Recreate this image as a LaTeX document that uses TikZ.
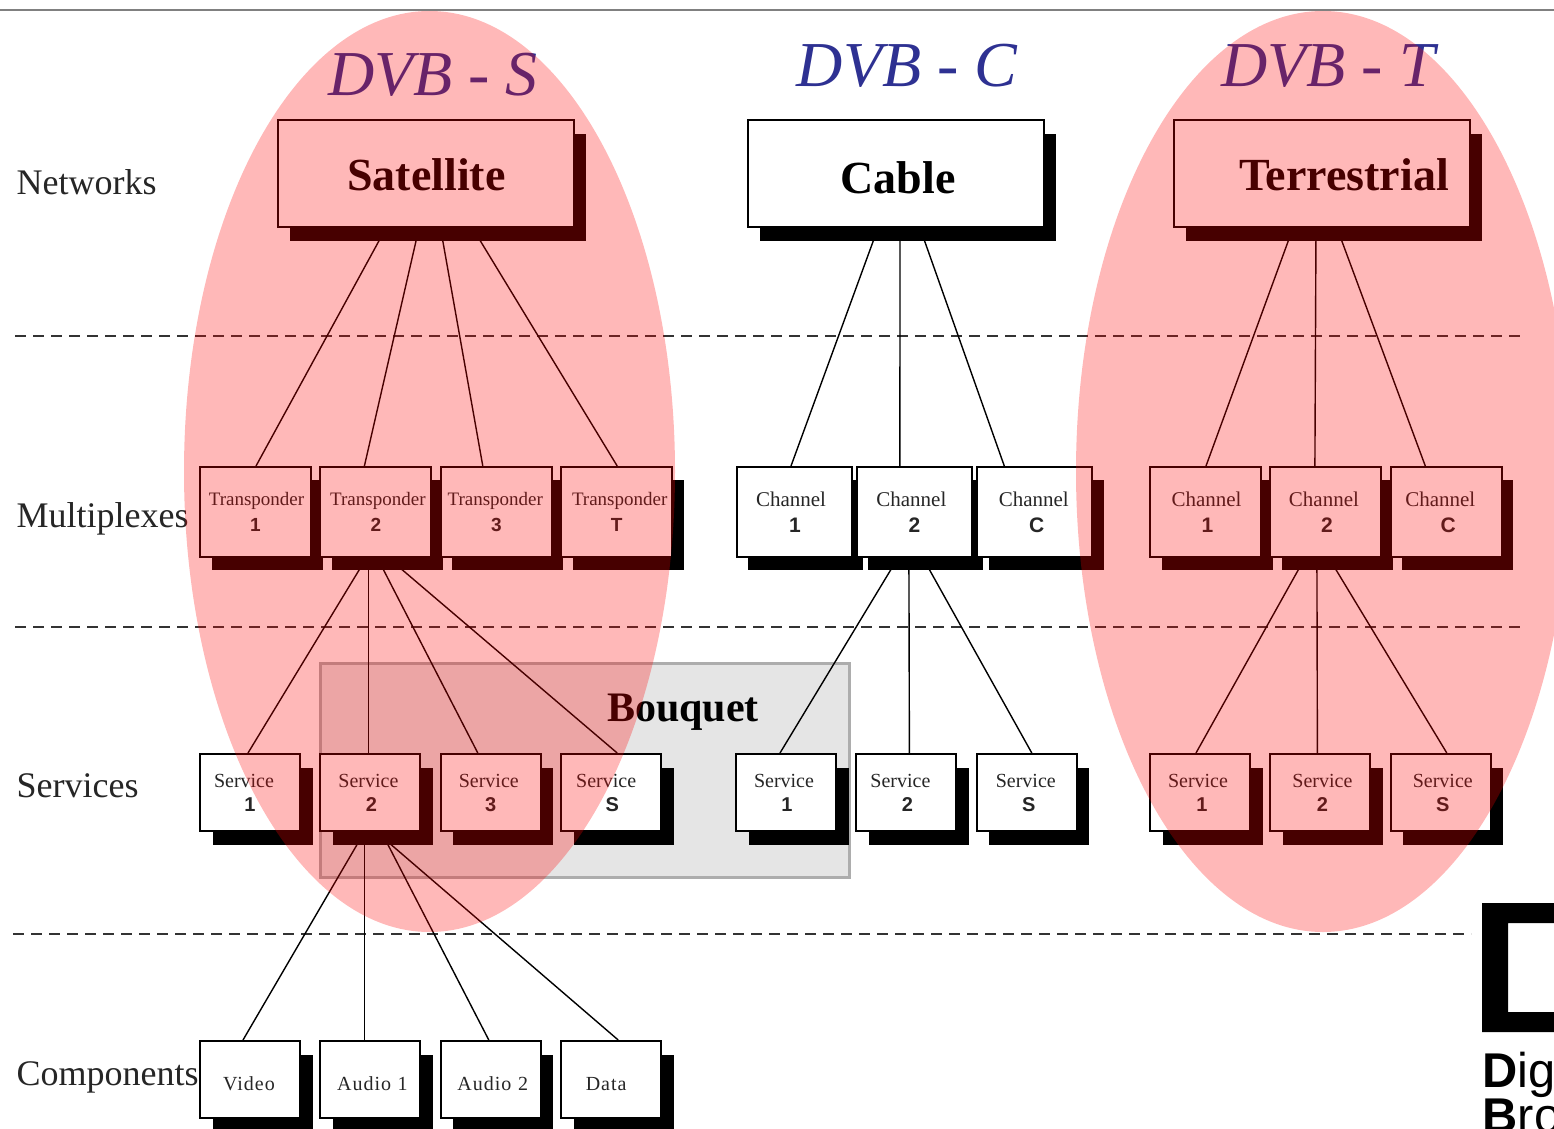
\documentclass[tikz,border=0pt]{standalone}
\usepackage{fontspec}
\setmainfont{Liberation Serif}
\setsansfont{Liberation Sans}
\usetikzlibrary{shadows}

\definecolor{dvbblue}{HTML}{2E3192}
\newfontfamily\spacedfont[LetterSpace=5]{Liberation Serif}
\newcommand{\twolab}[4]{\hspace*{#1pt}#2\\\hspace*{#3pt}{\sffamily\bfseries #4}}
\newcommand{\onelab}[2]{\hspace*{#1pt}{\spacedfont #2}}
\newcommand{\link}[4]{\path ([xshift=#2*0.5pt]#1.south) edge ([xshift=#4*0.5pt]#3.north);}

\tikzset{
  boxbase/.style={draw=black,fill=white,line width=1pt,inner sep=0pt,align=center,text=black!85},
  netbox/.style={boxbase,minimum width=148pt,minimum height=53.5pt,text=black,text height=17.5pt,text depth=0pt,
    font=\fontsize{23}{26}\selectfont\bfseries,
    general shadow={fill=black,shadow xshift=6pt,shadow yshift=-7pt}},
  muxbox/.style={boxbase,text width=55.5pt,minimum height=45pt,font=\fontsize{9.5}{13}\selectfont,
    general shadow={fill=black,shadow xshift=5.75pt,shadow yshift=-6.5pt}},
  chanbox/.style={muxbox,text width=#1,font=\fontsize{10.5}{13}\selectfont},
  chanbox/.default=57.5pt,
  svcbox/.style={boxbase,text width=50pt,minimum height=38.5pt,font=\fontsize{10}{12}\selectfont,
    general shadow={fill=black,shadow xshift=6.25pt,shadow yshift=-7pt}},
  cmpbox/.style={svcbox,text height=10.8pt,text depth=0pt},
  rowlabel/.style={anchor=west,inner sep=0pt,font=\fontsize{18}{20}\selectfont,text=black!85},
  dvblabel/.style={inner sep=0pt,text=dvbblue,font=\fontsize{32}{34}\selectfont\itshape},
  levelline/.style={draw=black!80,line width=0.75pt,dash pattern=on 5.5pt off 3.5pt},
  redzone/.style={fill=red,opacity=0.28}
}

\begin{document}
\begin{tikzpicture}[x=0.5pt,y=-0.5pt,node distance=60.2pt,line width=0.7pt]
\clip (0,0) rectangle (1554,1129);
\fill[white] (0,0) rectangle (1554,1129);
\draw[black!50,line width=1pt] (0,10) -- (1554,10);

% levels
\draw[levelline] (15,336) -- (1526,336);
\draw[levelline] (15,627) -- (1526,627);
\draw[levelline] (13,934) -- (1471,934);

\node[rowlabel] (lnet) at (16,182) {Networks};
\node[rowlabel] (lmux) at (16,519) {Multiplexes};
\node[rowlabel] (lsvc) at (16,786) {Services};
\node[rowlabel] (lcmp) at (16,1077) {Components};

% bouquet
\path[fill=black!10,draw=black!32,line width=1.5pt] (320,663) rectangle (849,877);
\node[inner sep=0pt,font=\fontsize{21}{24}\selectfont\bfseries] (bouquet) at (683,712) {Bouquet};

\node[dvblabel] (dvbs) at (433,75) {DVB - S};
\node[dvblabel] (dvbc) at (907,66) {DVB - C};
\node[dvblabel] (dvbt) at (1328,66) {DVB - T};

% networks
\node[netbox] (Sat) at (425.5,173.5) {\hspace*{1pt}Satellite};
\node[netbox,text height=19.5pt] (Cab) at (896,173.5) {\hspace*{2pt}Cable};
\node[netbox] (Ter) at (1322,173.5) {\hspace*{22pt}Terrestrial};

% multiplexes
\node[muxbox] (T1) at (255.5,512) {\twolab{1}{Transponder}{0}{1}};
\node[muxbox] (T2) [right of = T1] {\twolab{2}{Transponder}{0}{2}};
\node[muxbox] (T3) [right of = T2] {\twolab{-1}{Transponder}{0}{3}};
\node[muxbox] (T4) [right of = T3] {\twolab{3}{Transponder}{0}{T}};
\node[chanbox] (C1) at (794,512) {\twolab{-3}{Channel}{1}{1}};
\node[chanbox] (C2) [right of = C1] {\twolab{-3}{Channel}{0}{2}};
\node[chanbox] (C3) [right of = C2] {\twolab{-1}{Channel}{2}{C}};
\node[chanbox=55.5pt] (D1) at (1205.5,512) {\twolab{1}{Channel}{2}{1}};
\node[chanbox=55.5pt] (D2) [right of = D1] {\twolab{-2}{Channel}{1}{2}};
\node[chanbox=55.5pt] (D3) [right of = D2] {\twolab{-6}{Channel}{2}{C}};

% services
\node[svcbox] (S1) at (250,792.5) {\twolab{-6}{Service}{0}{1}};
\node[svcbox] (S2) [right of = S1] {\twolab{-2}{Service}{1}{2}};
\node[svcbox] (S3) [right of = S2] {\twolab{-2}{Service}{0}{3}};
\node[svcbox] (S4) [right of = S3] {\twolab{-5}{Service}{1}{S}};
\node[svcbox] (E1) at (786,792.5) {\twolab{-2}{Service}{1}{1}};
\node[svcbox] (E2) [right of = E1] {\twolab{-6}{Service}{1}{2}};
\node[svcbox] (E3) [right of = E2] {\twolab{-1}{Service}{2}{S}};
\node[svcbox] (F1) at (1200,792.5) {\twolab{-2}{Service}{2}{1}};
\node[svcbox] (F2) [right of = F1] {\twolab{2}{Service}{2}{2}};
\node[svcbox] (F3) [right of = F2] {\twolab{2}{Service}{2}{S}};

% components
\node[cmpbox] (P1) at (250,1079.5) {\onelab{-1}{Video}};
\node[cmpbox] (P2) [right of = P1] {\onelab{2}{Audio 1}};
\node[cmpbox] (P3) [right of = P2] {\onelab{2}{Audio 2}};
\node[cmpbox] (P4) [right of = P3] {\onelab{-5}{Data}};

\link{Sat}{-39.5}{T1}{0.5}
\link{Sat}{-6.5}{T2}{-11.5}
\link{Sat}{15}{T3}{-13.5}
\link{Sat}{47}{T4}{0.5}
\link{Cab}{-18}{C1}{-3}
\link{Cab}{4}{C2}{-14.5}
\link{Cab}{24}{C3}{-30.5}
\link{Ter}{-29}{D1}{0.5}
\link{Ter}{-6}{D2}{-11}
\link{Ter}{15}{D3}{-21}

\link{T2}{-9.5}{S1}{-2}
\link{T2}{-7.5}{S2}{-2}
\link{T2}{1.5}{S3}{-13}
\link{T2}{12.5}{S4}{6}
\link{C2}{-16.5}{E1}{-6}
\link{C2}{-5.5}{E2}{3}
\link{C2}{8.5}{E3}{5}
\link{D2}{-21}{F1}{-4}
\link{D2}{-9}{F2}{-3}
\link{D2}{3}{F3}{6}

\link{S2}{-6}{P1}{-7}
\link{S2}{-6}{P2}{-6}
\link{S2}{11}{P3}{-2}
\link{S2}{6}{P4}{7}

% the two shaded zones
\fill[redzone] (429.5,471.5) ellipse [x radius=245.5,y radius=460.5];
\fill[redzone] (1323,471.5) ellipse [x radius=247,y radius=460.5];

% logo
\fill[black,even odd rule] (1482,903) rectangle (1560,1032) (1508,923) rectangle (1560,1012);
\node[anchor=base west,inner sep=0pt,font=\sffamily\fontsize{24.4}{26}\selectfont] (logoa) at (1482,1087) {\textbf{D}ig};
\node[anchor=base west,inner sep=0pt,font=\sffamily\fontsize{24.4}{26}\selectfont] (logob) at (1482,1132) {\textbf{B}ro};
\end{tikzpicture}
\end{document}
